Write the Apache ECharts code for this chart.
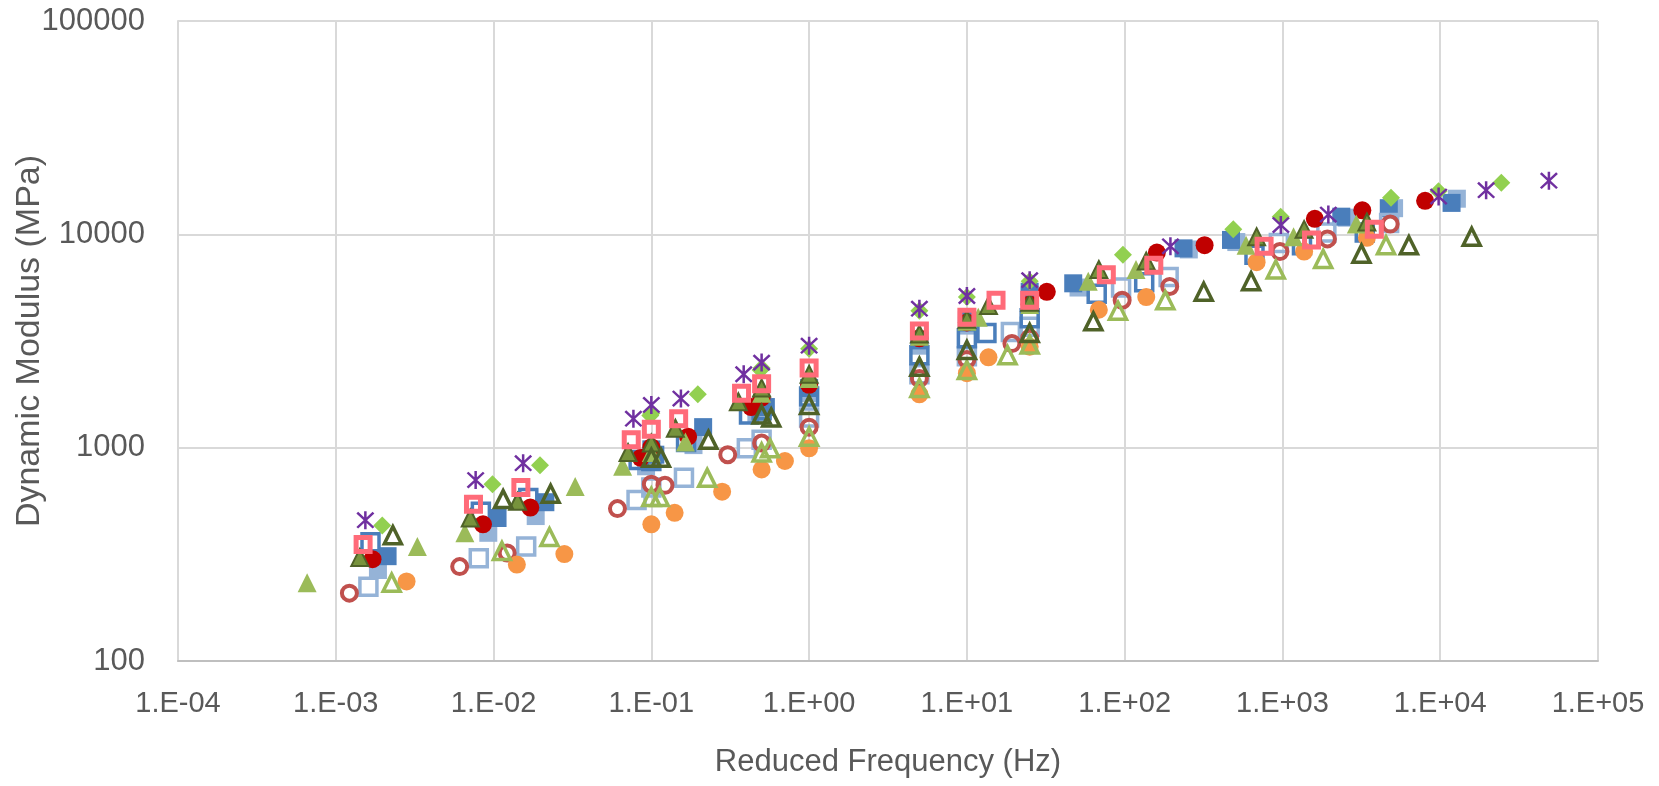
<!DOCTYPE html>
<html><head><meta charset="utf-8">
<script src="https://cdn.jsdelivr.net/npm/echarts@6/dist/echarts.min.js"></script>
<style>html,body{margin:0;padding:0;background:#fff}#c{width:1659px;height:786px}</style>
</head><body><div id="c"></div>
<script>
// Reference-temperature test frequencies (Hz)
const refFreq = [0.1, 0.5, 1, 5, 10, 25];

// Each series: low-frequency group, reference group, high-frequency group
const blueSolidX = [0.00213, 0.0106, 0.0213, 0.106, 0.213, 0.532, ...refFreq, 47.2, 236, 472, 2360, 4720, 11800];
const blueSolidY = [310, 468, 555, 927, 1248, 1550, 982, 1586, 1904, 3183, 3954, 5380, 5894, 8595, 9415, 12100, 13260, 14040];

const lightSolidX = [0.00185, 0.00926, 0.0185, 0.0926, 0.185, 0.463, ...refFreq, 51.0, 255, 510, 2550, 5100, 12750];
const lightSolidY = [267, 399, 478, 818, 1028, 1431, 907, 1498, 1799, 3006, 3734, 5140, 5632, 8495, 9200, 11970, 13260, 14690];

const blueOpenX = [0.00166, 0.00831, 0.0166, 0.0831, 0.166, 0.416, ...refFreq, 13.3, 66.5, 133, 665, 1330, 3325];
const blueOpenY = [360, 501, 581, 876, 1064, 1431, 866, 1498, 1738, 2713, 3256, 4045, 3447, 5259, 5963, 8025, 8890, 10200];

const lightOpenX = [0.00161, 0.00806, 0.0161, 0.0806, 0.161, 0.403, ...refFreq, 19.0, 94.9, 190, 949, 1898, 4745];
const lightOpenY = [223, 303, 344, 568, 722, 993, 651, 1088, 1383, 2209, 2682, 3692, 3487, 5632, 6312, 9100, 10200, 11300];

const redSolidX = [0.00171, 0.00857, 0.0171, 0.0857, 0.171, 0.429, ...refFreq, 32.1, 160, 321, 1604, 3208, 8020];
const redSolidY = [300, 437, 524, 896, 1126, 1550, 1005, 1718, 1970, 3256, 3864, 4692, 5380, 8210, 8890, 11830, 12960, 14360];

const redOpenX = [0.00122, 0.0061, 0.0122, 0.061, 0.122, 0.305, ...refFreq, 19.3, 96.4, 193, 964, 1928, 4820];
const redOpenY = [208, 277, 321, 518, 666, 927, 674, 1051, 1248, 2110, 2592, 3256, 3076, 4911, 5696, 8305, 9520, 11170];

const orangeX = [0.00281, 0.01405, 0.0281, 0.1405, 0.281, 0.7025, ...refFreq, 13.7, 68.6, 137, 686, 1372, 3430];
const orangeY = [236, 283, 317, 495, 622, 866, 437, 790, 993, 1778, 2234, 2972, 2651, 4431, 5082, 7406, 8305, 9630];

const diamondX = [0.00197, 0.00985, 0.0197, 0.0985, 0.197, 0.4925, ...refFreq, 97.5, 488, 975, 4877, 9754, 24385];
const diamondY = [432, 674, 827, 1415, 1778, 2312, 1448, 2365, 2905, 4380, 5082, 6031, 8025, 10550, 12100, 14860, 15910, 17440];

const starX = [0.00154, 0.0077, 0.0154, 0.077, 0.154, 0.385, ...refFreq, 195, 977, 1954, 9770, 19540, 48850];
const starY = [457, 705, 846, 1367, 1699, 2209, 1586, 2504, 3006, 4482, 5140, 6100, 8790, 11050, 12380, 15030, 16100, 17840];

const pinkX = [0.00149, 0.00746, 0.0149, 0.0746, 0.149, 0.373, ...refFreq, 15.3, 76.5, 153, 765, 1529, 3823];
const pinkY = [352, 543, 651, 1088, 1367, 1799, 1220, 1993, 2365, 3527, 4091, 4911, 4911, 6458, 7158, 8790, 9415, 10550];

const greenTriX = [0.000658, 0.00329, 0.00658, 0.0329, 0.0658, 0.1645, ...refFreq, 11.8, 58.8, 118, 588, 1176, 2940];
const greenTriY = [233, 344, 399, 658, 818, 1064, 949, 1799, 2110, 3331, 3909, 4692, 4091, 6031, 6837, 8890, 9740, 11170];

const oliveTriX = [0.00142, 0.00712, 0.0142, 0.0712, 0.142, 0.356, ...refFreq, 13.7, 68.6, 137, 686, 1372, 3430];
const oliveTriY = [306, 468, 561, 949, 1234, 1641, 1051, 1904, 2209, 3408, 3999, 4800, 4639, 6837, 7493, 9740, 10550, 11430];

const darkOpenTriX = [0.0023, 0.0115, 0.023, 0.115, 0.23, 0.575, ...refFreq, 63.3, 317, 633, 3166, 6331, 15830];
const darkOpenTriY = [389, 574, 608, 896, 1088, 1383, 896, 1431, 1586, 2392, 2872, 3447, 3909, 5380, 6031, 8120, 8890, 9740];

const greenOpenTriX = [0.00226, 0.0113, 0.0226, 0.113, 0.226, 0.566, ...refFreq, 18.1, 90.7, 181, 907, 1813, 4533];
const greenOpenTriY = [233, 328, 381, 587, 722, 993, 587, 949, 1126, 1904, 2312, 3041, 2713, 4380, 4911, 6837, 7665, 8890];

const STAR = 'path://M43.5 0L56.5 0L56.5 100L43.5 100Z M12.6 3.4L96.6 87.4L87.4 96.6L3.4 12.6Z M87.4 3.4L96.6 12.6L12.6 96.6L3.4 87.4Z';
const NONE = 'rgba(255,255,255,0)';

const mk = (xs, ys) => xs.map((x, i) => [x, ys[i]]);

const defs = [
  {n:'lightSolid', x:lightSolidX, y:lightSolidY, s:'rect', z:18, c:'#95B3D7', b:null, w:0},
  {n:'blueSolid', x:blueSolidX, y:blueSolidY, s:'rect', z:18, c:'#4A7EBB', b:null, w:0},
  {n:'lightOpen', x:lightOpenX, y:lightOpenY, s:'rect', z:17, c:NONE, b:'#95B3D7', w:3.5},
  {n:'blueOpen', x:blueOpenX, y:blueOpenY, s:'rect', z:17, c:NONE, b:'#4A7EBB', w:3.5},
  {n:'redSolid', x:redSolidX, y:redSolidY, s:'circle', z:18, c:'#C00000', b:null, w:0},
  {n:'redOpen', x:redOpenX, y:redOpenY, s:'circle', z:15, c:NONE, b:'#C0504D', w:4},
  {n:'orange', x:orangeX, y:orangeY, s:'circle', z:18, c:'#F79646', b:null, w:0},
  {n:'greenTri', x:greenTriX, y:greenTriY, s:'triangle', z:19, c:'#9BBB59', b:null, w:0},
  {n:'oliveTri', x:oliveTriX, y:oliveTriY, s:'triangle', z:17, c:'#77933C', b:'#4F6228', w:2},
  {n:'greenOpenTri', x:greenOpenTriX, y:greenOpenTriY, s:'triangle', z:17, c:NONE, b:'#9BBB59', w:3.5},
  {n:'darkOpenTri', x:darkOpenTriX, y:darkOpenTriY, s:'triangle', z:17, c:NONE, b:'#4F6228', w:3.5},
  {n:'diamond', x:diamondX, y:diamondY, s:'diamond', z:18, c:'#92D050', b:null, w:0},
  {n:'star', x:starX, y:starY, s:STAR, z:18, c:'#7030A0', b:null, w:0},
  {n:'pink', x:pinkX, y:pinkY, s:'rect', z:14, c:NONE, b:'#FF6B79', w:5}
];

const expLabel = v => {
  const e = Math.round(Math.log10(v));
  return '1.E' + (e < 0 ? '-' : '+') + String(Math.abs(e)).padStart(2, '0');
};

const FONT = 'Liberation Sans, Arial, sans-serif';
const chart = echarts.init(document.getElementById('c'));
chart.setOption({
  animation: false,
  backgroundColor: '#fff',
  grid: {left: 178, right: 61, top: 21, bottom: 125, containLabel: false, outerBoundsMode: 'none'},
  xAxis: {
    type: 'log', logBase: 10, min: 1e-4, max: 1e5, interval: 1,
    name: 'Reduced Frequency (Hz)', nameLocation: 'middle', nameGap: 86, nameMoveOverlap: false,
    nameTextStyle: {color: '#595959', fontSize: 31, fontFamily: FONT},
    axisLine: {show: true, lineStyle: {color: '#BFBFBF', width: 2}},
    axisTick: {show: false},
    axisLabel: {formatter: expLabel, color: '#595959', fontSize: 29, fontFamily: FONT, margin: 28},
    splitLine: {show: true, lineStyle: {color: '#D9D9D9', width: 2}},
    minorTick: {show: false}
  },
  yAxis: {
    type: 'log', logBase: 10, min: 100, max: 100000, interval: 1,
    name: 'Dynamic Modulus (MPa)', nameLocation: 'middle', nameGap: 131, nameMoveOverlap: false,
    nameTextStyle: {color: '#595959', fontSize: 34, fontFamily: FONT},
    axisLine: {show: true, lineStyle: {color: '#D9D9D9', width: 2}},
    axisTick: {show: false},
    axisLabel: {formatter: v => String(Math.round(v)), color: '#595959', fontSize: 31, fontFamily: FONT, margin: 33},
    splitLine: {show: true, lineStyle: {color: '#D9D9D9', width: 2}}
  },
  series: defs.map(d => ({
    type: 'scatter', name: d.n, data: mk(d.x, d.y),
    symbol: d.s, symbolSize: d.z,
    itemStyle: {color: d.c, borderColor: d.b || d.c, borderWidth: d.w, opacity: 1},
    emphasis: {disabled: true}
  }))
});
</script></body></html>
